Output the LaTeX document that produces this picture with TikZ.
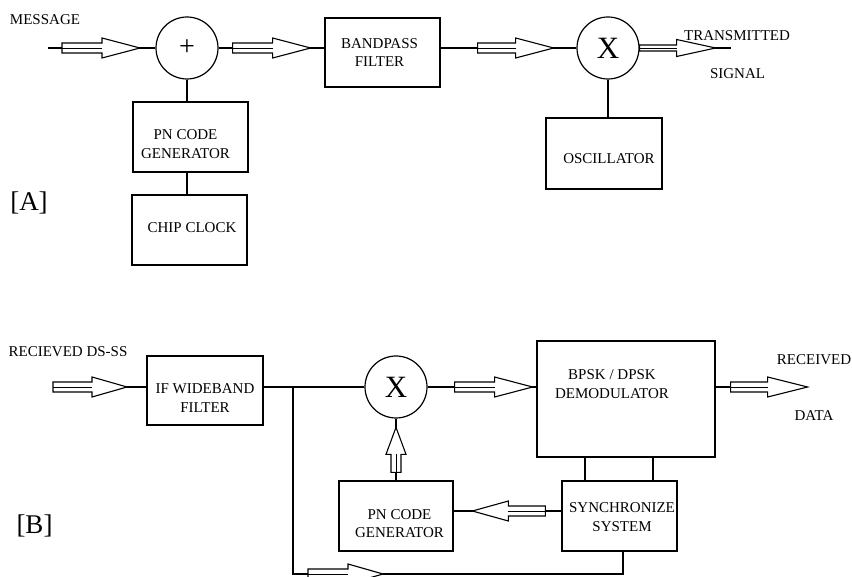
\documentclass[tikz,border=0pt]{standalone}
\usepackage{fontspec}
\setmainfont{Liberation Serif}
\usetikzlibrary{decorations.markings}

% hollow signal arrow centred on a marking: length, shaft half-width, head half-width, head length
\newcommand\fatarrow[4]{%
  \pgfmathsetmacro\fatA{#1/2}%
  \pgfmathsetmacro\fatB{#1/2-#4}%
  \draw[fill=white, line width=1.1pt, line join=miter]
    (-\fatA pt,-#2pt) -- (\fatB pt,-#2pt) -- (\fatB pt,-#3pt) -- (\fatA pt,0pt)
    -- (\fatB pt,#3pt) -- (\fatB pt,#2pt) -- (-\fatA pt,#2pt) -- cycle;
  \draw[line width=0.5pt] (-\fatA pt,0pt) -- (\fatB pt,0pt);
}

\tikzset{
  wire/.style={line width=1.1pt},
  blk/.style={draw, line width=1.3pt, rectangle, inner sep=0pt},
  junc/.style={draw, line width=1.2pt, circle, inner sep=0pt, minimum size=62pt},
  lbl/.style={font=\fontsize{15}{18.5}\selectfont, align=center, inner sep=0pt},
  tag/.style={font=\fontsize{27}{30}\selectfont, inner sep=0pt},
  sig/.style n args={3}{postaction={decorate, decoration={markings,
      mark=at position #1 with {\fatarrow{#2}{5}{10}{#3}}}}},
  thinsig/.style n args={3}{postaction={decorate, decoration={markings,
      mark=at position #1 with {\fatarrow{#2}{3}{8.5}{#3}}}}},
}

\begin{document}
\begin{tikzpicture}[x=1pt, y=-1pt]
\useasboundingbox (0,0) rectangle (852,577);

% ---------------- [A] transmitter ----------------
\node[tag] (tagA) at (29,203) {[A]};
\node[lbl] (msg) at (45,20) {MESSAGE};
\coordinate (msgin) at (48,48);

\node[junc, font=\fontsize{28}{30}\selectfont] (plusA) at (187,48) {+};
\node[blk, minimum width=115pt, minimum height=69pt] (bpf) at (382.5,52.5) {};
\node[lbl] (bpft) at ([shift={(-3,0)}]bpf.center) {BANDPASS\\FILTER};
\node[junc, font=\fontsize{31}{33}\selectfont] (mixA) at (608,48) {X};
\coordinate (txout) at (731,48);
\node[lbl] (txt1) at (737,36) {TRANSMITTED};
\node[lbl] (txt2) at (737.5,74) {SIGNAL};

\node[blk, minimum width=115pt, minimum height=70pt] (pnA) at (190.5,137) {};
\node[lbl] (pnAt) at ([shift={(-5,7)}]pnA.center) {PN CODE\\GENERATOR};
\node[blk, minimum width=115pt, minimum height=70pt] (chip) at (189.5,230) {};
\node[lbl] (chipt) at ([shift={(2.5,-2)}]chip.center) {CHIP CLOCK};
\node[blk, minimum width=116pt, minimum height=71pt] (osc) at (604,153.5) {};
\node[lbl] (osct) at ([shift={(5,5.5)}]osc.center) {OSCILLATOR};

\draw[wire, sig={53pt}{78}{38}] (msgin) -- (plusA.west);
\draw[wire, sig={53pt}{78}{38}] (plusA.east) -- (plusA.east -| bpf.west);
\draw[wire, sig={75pt}{76}{38}] (plusA.east -| bpf.east) -- (mixA.west);
\draw[wire, thinsig={38pt}{76}{39}] (mixA.east) -- (txout);
\draw[wire] (plusA.south) -- (plusA.south |- pnA.north);
\draw[wire] (plusA.south |- pnA.south) -- (plusA.south |- chip.north);
\draw[wire] (mixA.south) -- (mixA.south |- osc.north);

% ---------------- [B] receiver ----------------
\node[tag] (tagB) at (34.5,526) {[B]};
\node[lbl] (rxin) at (68,352) {RECIEVED DS-SS};
\coordinate (rxsrc) at (53,387);

\node[blk, minimum width=116pt, minimum height=69pt] (ifw) at (205,390.5) {};
\node[lbl] (ifwt) at ([shift={(0,7.5)}]ifw.center) {IF WIDEBAND\\FILTER};
\node[junc, font=\fontsize{31}{33}\selectfont] (mixB) at (396,387) {X};
\node[blk, minimum width=178pt, minimum height=116pt] (bpsk) at (626,399) {};
\node[lbl] (bpskt) at ([shift={(-14,-15)}]bpsk.center) {BPSK / DPSK\\DEMODULATOR};
\coordinate (rxout) at (807,387);
\node[lbl] (rx1) at (814,360) {RECEIVED};
\node[lbl] (rx2) at (814,416) {DATA};

\node[blk, minimum width=115pt, minimum height=70pt] (sync) at (619.5,516) {};
\node[lbl] (synct) at ([shift={(2.5,1)}]sync.center) {SYNCHRONIZE\\SYSTEM};
\node[blk, minimum width=114pt, minimum height=70pt] (pnB) at (396,516) {};
\node[lbl] (pnBt) at ([shift={(3.5,7.5)}]pnB.center) {PN CODE\\GENERATOR};

\coordinate (br) at (293,387);
\coordinate (fb) at (293,574);

\draw[wire, sig={37pt}{74}{35}] (rxsrc) -- (rxsrc -| ifw.west);
\draw[wire] (mixB.west -| ifw.east) -- (mixB.west);
\draw[wire, sig={66pt}{78}{38}] (mixB.east) -- (mixB.east -| bpsk.west);
\draw[wire, sig={53.5pt}{77}{40}] (mixB.east -| bpsk.east) -- (rxout);
\draw[wire, sig={52.5pt}{73}{36}] ([yshift=5pt]sync.west) -- ([yshift=5pt]sync.west -| pnB.east);
\draw[wire, sig={30.5pt}{45}{27}] (pnB.north) -- (mixB.south);
\draw[wire] ([xshift=-34.5pt]sync.north) -- ([xshift=-34.5pt]sync.north |- bpsk.south);
\draw[wire] ([xshift=33.5pt]sync.north) -- ([xshift=33.5pt]sync.north |- bpsk.south);
\draw[wire, sig={239.5pt}{75}{35}] (br) -- (fb) -| ([xshift=3.5pt]sync.south);
\end{tikzpicture}
\end{document}
